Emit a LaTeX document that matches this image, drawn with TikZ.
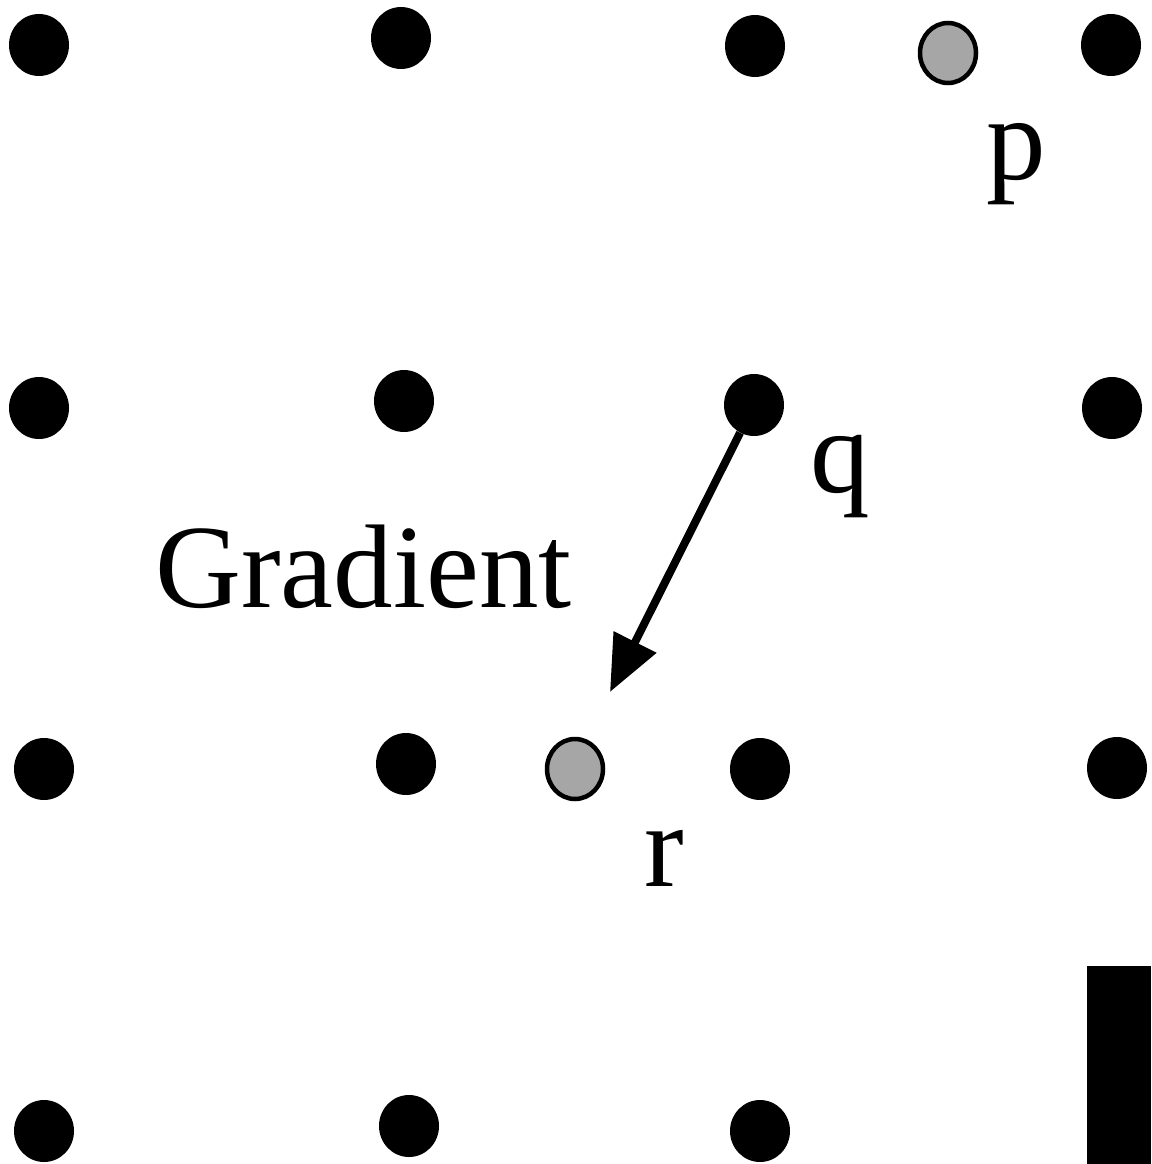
\documentclass[tikz,border=0pt]{standalone}
\usepackage{fontspec}
\setmainfont{Liberation Serif}
\usetikzlibrary{arrows.meta,shapes.geometric}
\begin{document}
\begin{tikzpicture}[x=1pt,y=-1pt,
  dot/.style={ellipse, inner sep=0pt, minimum width=60pt, minimum height=62pt, fill=black},
  graydot/.style={ellipse, inner sep=0pt, minimum width=56pt, minimum height=60pt, fill=gray!70!white, draw=black, line width=4.5pt},
  lbl/.style={anchor=base west, inner sep=0pt, font=\fontsize{119}{120}\selectfont},
  gradarrow/.style={line width=8pt, -{Triangle[length=56pt,width=46pt]}}]
\useasboundingbox (0,0) rectangle (1151,1164);
% row 1
\node[dot] (a1) at (39,45) {};
\node[dot] (a2) at (401,38) {};
\node[dot] (a3) at (755,46) {};
\node[graydot] (p) at (948,53) {};
\node[dot] (a5) at (1111,45) {};
% row 2
\node[dot] (b1) at (39,408) {};
\node[dot] (b2) at (404,401) {};
\node[dot] (q) at (754,405) {};
\node[dot] (b4) at (1112,408) {};
% row 3
\node[dot] (c1) at (44,769) {};
\node[dot] (c2) at (406,764) {};
\node[graydot] (r) at (575,769) {};
\node[dot] (c4) at (760,769) {};
\node[dot] (c5) at (1117,768) {};
% row 4
\node[dot] (d1) at (44,1131) {};
\node[dot] (d2) at (409,1126) {};
\node[dot] (d3) at (760,1131) {};
% bar
\node[fill=black, inner sep=0pt, minimum width=64pt, minimum height=198pt, anchor=north west] (bar) at (1087,966) {};
% labels
\node[lbl] (lp) at (986,179) {p};
\node[lbl] (lq) at (810,492) {q};
\node[lbl] (lr) at (644,886) {r};
\node[lbl] (lg) at (155,607) {Gradient};
% arrow
\coordinate (tip) at (610,692);
\draw[gradarrow] (q) -- (tip);
\end{tikzpicture}
\end{document}
